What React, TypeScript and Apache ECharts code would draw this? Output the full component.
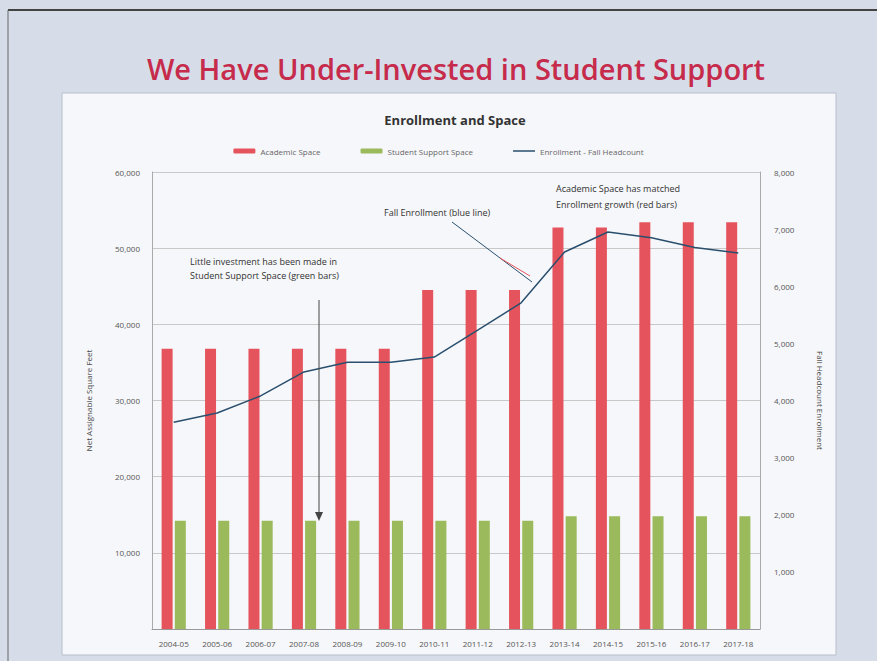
import React, { useEffect, useRef } from "react";
import * as echarts from "echarts";

const years = ["2004-05", "2005-06", "2006-07", "2007-08", "2008-09", "2009-10", "2010-11", "2011-12", "2012-13", "2013-14", "2014-15", "2015-16", "2016-17", "2017-18"];
const academicSpace = [36800, 36800, 36800, 36800, 36800, 36800, 44500, 44500, 44500, 52700, 52700, 53400, 53400, 53400];
const studentSupportSpace = [14200, 14200, 14200, 14200, 14200, 14200, 14200, 14200, 14200, 14800, 14800, 14800, 14800, 14800];
const fallHeadcount = [3620, 3780, 4080, 4500, 4670, 4670, 4760, 5230, 5710, 6600, 6950, 6850, 6680, 6580];
const leftTicks = { min: 0, max: 60000, interval: 10000 };
const rightTicks = { min: 0, max: 8000, interval: 1000 };

const fmt = (v: number) => v.toLocaleString("en-US");

export default function App() {
  const ref = useRef<HTMLDivElement>(null);
  useEffect(() => {
    document.body.style.margin = "0";
    const chart = echarts.init(ref.current!, null, { renderer: "svg" });
    const font = "'Open Sans', 'Liberation Sans', sans-serif";
    chart.setOption({
      animation: false,
      backgroundColor: "#d6dde9",
      textStyle: { fontFamily: font },
      title: {
        text: "Enrollment and Space",
        left: 450,
        top: 108,
        textAlign: "center",
        textStyle: { fontSize: 13, fontWeight: "bold", color: "#333", fontFamily: font },
      },
      legend: {
        top: 142,
        left: "center",
        itemGap: 40,
        itemWidth: 22,
        itemHeight: 5,
        textStyle: { fontSize: 8, color: "#666" },
        data: [
          "Academic Space",
          "Student Support Space",
          { name: "Enrollment - Fall Headcount", icon: "path://M0,0 L22,0 L22,1.5 L0,1.5 Z" },
        ],
      },
      grid: { left: 152, right: 117, top: 172, bottom: 32 },
      xAxis: {
        type: "category",
        data: years,
        axisLabel: { interval: 0, fontSize: 8, color: "#555", margin: 10 },
        axisTick: { show: false },
        axisLine: { lineStyle: { color: "#999" } },
      },
      yAxis: [
        {
          type: "value",
          ...leftTicks,
          name: "Net Assignable Square Feet",
          nameLocation: "middle",
          nameGap: 60,
          nameTextStyle: { fontSize: 8, color: "#444" },
          axisLabel: { fontSize: 8, color: "#555", formatter: fmt, margin: 12, showMinLabel: false },
          axisLine: { show: true, lineStyle: { color: "#aaa" } },
          splitLine: { lineStyle: { color: "#c8c8c8" } },
        },
        {
          type: "value",
          ...rightTicks,
          name: "Fall Headcount Enrollment",
          nameLocation: "middle",
          nameRotate: -90,
          nameGap: 56,
          nameTextStyle: { fontSize: 8, color: "#444" },
          axisLabel: { fontSize: 8, color: "#555", formatter: fmt, margin: 14, showMinLabel: false },
          axisLine: { show: true, lineStyle: { color: "#aaa" } },
          splitLine: { show: false },
        },
      ],
      series: [
        {
          name: "Academic Space",
          type: "bar",
          data: academicSpace,
          barWidth: 11,
          barGap: "20%",
          itemStyle: { color: "#e5545c" },
        },
        {
          name: "Student Support Space",
          type: "bar",
          data: studentSupportSpace,
          barWidth: 11,
          itemStyle: { color: "#9aba5c" },
        },
        {
          name: "Enrollment - Fall Headcount",
          type: "line",
          yAxisIndex: 1,
          data: fallHeadcount,
          showSymbol: false,
          symbol: "none",
          lineStyle: { color: "#2a4f6e", width: 1.5 },
          itemStyle: { color: "#2a4f6e" },
        },
      ],
      graphic: [
        { type: "rect", z: -10, shape: { x: 62, y: 93, width: 774, height: 562 }, style: { fill: "#f6f7fa", stroke: "#b8bfcc", lineWidth: 1 } },
        { type: "line", z: -5, shape: { x1: 8, y1: 10, x2: 877, y2: 10 }, style: { stroke: "#444", lineWidth: 2 } },
        { type: "line", z: -5, shape: { x1: 8, y1: 10, x2: 8, y2: 661 }, style: { stroke: "#666", lineWidth: 1 } },
        {
          type: "text",
          x: 456,
          y: 68,
          style: {
            text: "We Have Under-Invested in Student Support",
            fill: "#c62b4c",
            fontSize: 29,
            fontWeight: 600,
            fontFamily: font,
            align: "center",
            verticalAlign: "middle",
          },
        },
        {
          type: "text",
          z: 100,
          x: 190,
          y: 254,
          style: {
            text: "Little investment has been made in\nStudent Support Space (green bars)",
            fill: "#333",
            fontSize: 9,
            lineHeight: 14,
            fontFamily: font,
          },
        },
        { type: "line", z: 100, shape: { x1: 319, y1: 300, x2: 319, y2: 514 }, style: { stroke: "#444", lineWidth: 1 } },
        { type: "polygon", z: 100, shape: { points: [[315, 512], [323, 512], [319, 521]] }, style: { fill: "#444" } },
        {
          type: "text",
          z: 100,
          x: 384,
          y: 208,
          style: { text: "Fall Enrollment (blue line)", fill: "#333", fontSize: 9, fontFamily: font },
        },
        { type: "line", z: 100, shape: { x1: 452, y1: 222, x2: 532, y2: 282 }, style: { stroke: "#2a4f6e", lineWidth: 1 } },
        {
          type: "text",
          z: 100,
          x: 556,
          y: 180,
          style: {
            text: "Academic Space has matched\nEnrollment growth (red bars)",
            fill: "#333",
            fontSize: 9,
            lineHeight: 16,
            fontFamily: font,
          },
        },
        { type: "line", z: 100, shape: { x1: 500, y1: 258, x2: 530, y2: 276 }, style: { stroke: "#e5545c", lineWidth: 1 } },
      ],
    });
    return () => chart.dispose();
  }, []);
  return <div ref={ref} style={{ width: 877, height: 661 }} />;
}
